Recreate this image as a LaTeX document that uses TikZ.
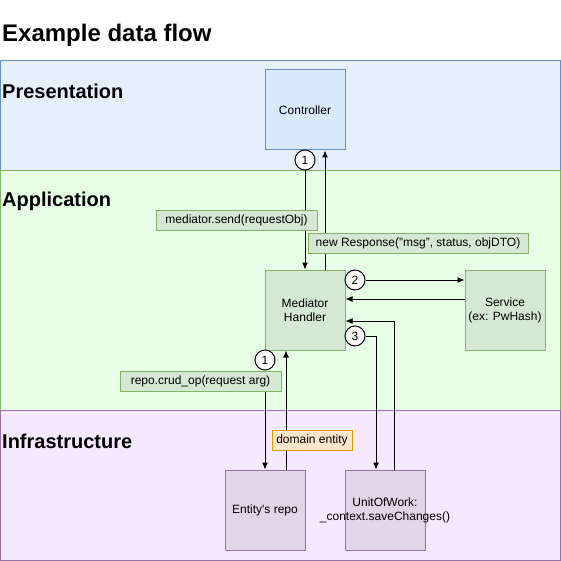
\documentclass[tikz,border=0pt]{standalone}
\usepackage{fontspec}
\setmainfont{Liberation Sans}
\usetikzlibrary{arrows.meta, positioning}
\definecolor{presfill}{HTML}{E6F0FC}
\definecolor{presline}{HTML}{6C8EBF}
\definecolor{ctrlfill}{HTML}{DAE8FC}
\definecolor{appfill}{HTML}{E6FFE6}
\definecolor{appline}{HTML}{82B366}
\definecolor{medfill}{HTML}{D5E8D4}
\definecolor{infrafill}{HTML}{F5E8FF}
\definecolor{infraline}{HTML}{9673A6}
\definecolor{repofill}{HTML}{E1D5E7}
\definecolor{entfill}{HTML}{FFE6CC}
\definecolor{entline}{HTML}{D79B00}
\tikzset{
  layer/.style={rectangle, draw, line width=1pt, anchor=north west, minimum width=560pt, inner sep=0pt},
  layertitle/.style={anchor=west, inner sep=0pt, font=\fontsize{20}{24}\selectfont\bfseries},
  block/.style={rectangle, draw, line width=1pt, minimum width=80pt, minimum height=80pt, inner sep=0pt, align=center, font=\fontsize{12}{14}\selectfont},
  tag/.style={rectangle, draw, line width=1pt, minimum height=20pt, inner sep=0pt, font=\fontsize{12}{14}\selectfont},
  stepnum/.style={circle, draw, fill=white, line width=1pt, minimum size=20pt, inner sep=0pt, font=\fontsize{12}{14}\selectfont},
  arrow/.style={-{Latex[length=7pt,width=6pt]}, line width=1pt}
}

\begin{document}
\begin{tikzpicture}[x=1pt,y=-1pt]
  \useasboundingbox (0,0) rectangle (561,561);

  % Layers
  \node[layer, fill=presfill, draw=presline, minimum height=110pt] (pres) at (0,60) {};
  \node[layer, fill=appfill, draw=appline, minimum height=240pt] (app) at (0,170) {};
  \node[layer, fill=infrafill, draw=infraline, minimum height=150pt] (infra) at (0,410) {};

  \node[anchor=west, inner sep=0pt, font=\fontsize{24}{28}\selectfont\bfseries] (title) at (2,35) {Example data flow};
  \node[layertitle] (prestitle) at (2,91) {Presentation};
  \node[layertitle] (apptitle) at (2,201) {Application};
  \node[layertitle] (infratitle) at (2,441) {Infrastructure};

  % Nodes
  \node[block, fill=ctrlfill, draw=presline] (ctrl) at (305,110) {Controller};
  \node[block, fill=medfill, draw=appline] (med) at (305,310) {Mediator\\Handler};
  \node[block, fill=medfill, draw=appline] (svc) at (505,310) {Service\\(ex: PwHash)};
  \node[block, fill=repofill, draw=infraline] (repo) at (265,510) {Entity\textquotesingle s repo};
  \node[block, fill=repofill, draw=infraline] (uow) at (385,510) {UnitOfWork:\\\makebox[0pt]{\_context.saveChanges()}};

  \node[stepnum] (stepA) at (305,160) {1};
  \node[stepnum] (stepB) at (355,280) {2};
  \node[stepnum] (stepC) at (355,336) {3};
  \node[stepnum] (stepD) at (265,360) {1};

  % Arrows
  \draw[arrow] (stepA.south) -- (stepA.south |- med.north);
  \draw[arrow] ([xshift=20pt]med.north) -- ([xshift=20pt]ctrl.south);
  \draw[arrow] (stepB.east) -- (svc.west |- stepB.east);
  \draw[arrow] ([yshift=11pt]svc.west) -- ([yshift=11pt]med.east);
  \draw[arrow] (stepC.east) -| ([xshift=-9pt]uow.north);
  \draw[arrow] ([xshift=9pt]uow.north) |- ([yshift=-11pt]med.east);
  \draw[arrow] (stepD.south) -- (stepD.south |- repo.north);
  \draw[arrow] ([xshift=21pt]repo.north) -- ([xshift=21pt]repo.north |- med.south);

  % Labels
  \node[tag, fill=medfill, draw=appline, minimum width=161pt] (sendlbl) at (236.5,220) {mediator.send(requestObj)};
  \node[tag, fill=medfill, draw=appline, minimum width=220pt] (resplbl) at (418,243) {new Response("msg", status, objDTO)};
  \node[tag, fill=medfill, draw=appline, minimum width=161pt] (crudlbl) at (200.5,381) {repo.crud\_op(request arg)};
  \node[tag, fill=entfill, draw=entline, minimum width=80pt] (entlbl) at (312,440) {domain entity};
\end{tikzpicture}
\end{document}
